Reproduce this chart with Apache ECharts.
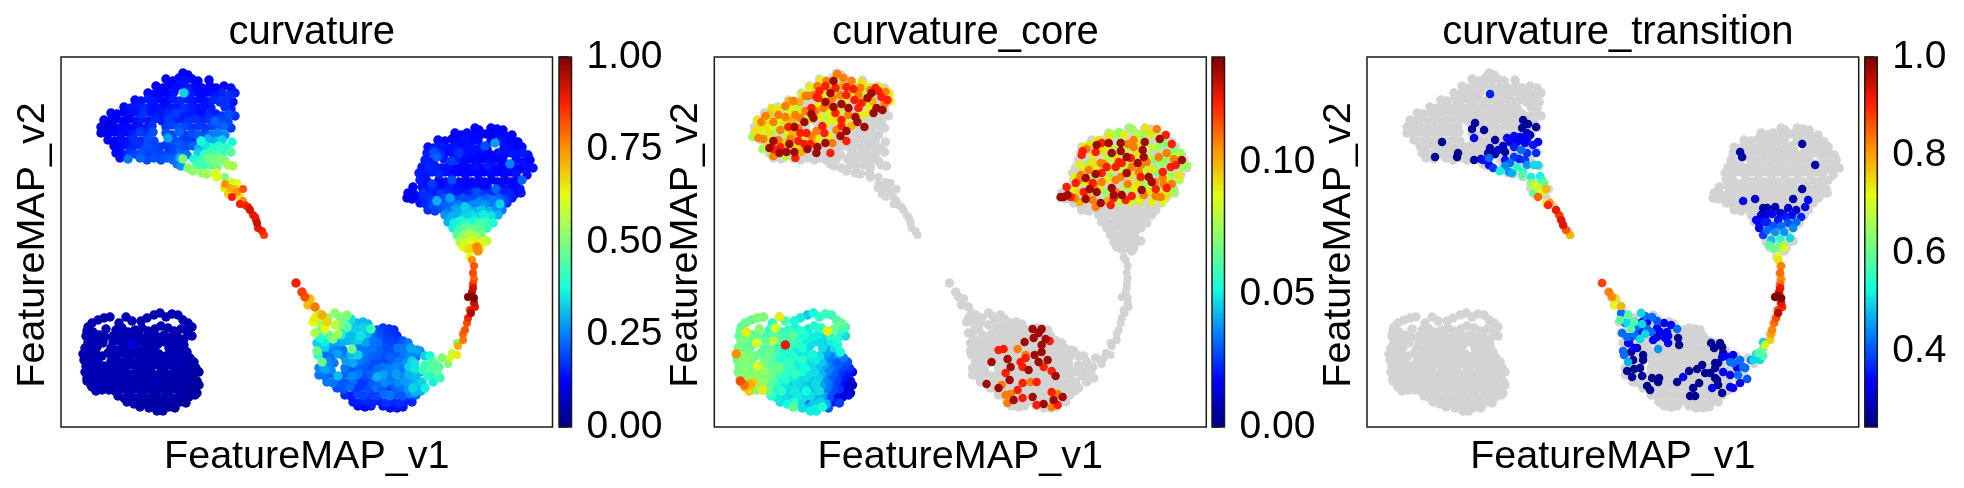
<!DOCTYPE html>
<html>
<head>
<meta charset="utf-8">
<style>html,body{margin:0;padding:0;background:#fff}#chart{width:1964px;height:488px}</style>
<script src="https://cdn.jsdelivr.net/npm/echarts@6/dist/echarts.min.js"></script>
</head>
<body>
<div id="chart"></div>
<script>
// Cells of the FeatureMAP embedding: [v1, v2, curvature, curvature_core]
const cellsLowerLeft = [
[49,110,.05,.07],[43,109,.05,.07],[37,107,.05,.066],[31,104,.05,.066],[27,100,.05,.063],[65,110,.06,.09],[71,106,.05,.06],[58,104,.05,.056],[80,106,.05,.052],[86,109,.05,.05],[93,112,.05,.045],[99,114,.05,.052],[105,110,.05,.056],[111,113,.05,.058],[117,112,.05,.058],[122,107,.05,.062],[127,104,.05,.066],[131,100,.05,.06],
[26,96,.05,.066],[32,95,.05,.09],[45,98,.05,.072],[55,97,.05,.056],[61,99,.06,.085],[67,95,.05,.058],[74,97,.05,.056],[81,99,.05,.052],[87,96,.05,.056],[94,98,.05,.05],[100,101,.05,.054],[107,99,.05,.056],[113,96,.05,.09],[120,98,.05,.066],[126,96,.05,.056],
[25,91,.05,.066],[31,89,.05,.07],[38,92,.05,.064],[44,90,.05,.066],[52,91,.05,.06],[59,92,.05,.064],[64,88,.05,.062],[71,90,.06,.06],[78,92,.05,.064],[84,89,.05,.055],[90,92,.05,.052],[97,90,.05,.05],[103,92,.05,.05],[110,90,.05,.048],[116,91,.05,.056],[123,88,.05,.055],[131,91,.05,.048],
[27,85,.05,.068],[33,83,.05,.064],[39,87,.05,.062],[42,84,.05,.085],[52,85,.05,.064],[59,86,.06,.08],[65,83,.05,.056],[71,82,.1,.125],[78,85,.05,.06],[84,83,.05,.056],[91,85,.05,.05],[97,83,.05,.048],[104,85,.05,.048],[110,84,.05,.046],[117,85,.05,.05],[123,82,.05,.052],
[24,79,.05,.068],[30,78,.05,.066],[36,80,.05,.064],[50,79,.05,.064],[56,77,.05,.066],[62,80,.05,.058],[68,77,.05,.054],[75,79,.05,.056],[81,76,.05,.05],[88,79,.05,.054],[94,77,.05,.048],[108,79,.05,.048],[114,77,.05,.04],[120,79,.05,.048],[126,75,.05,.052],
[22,73,.05,.105],[28,72,.05,.072],[35,73,.05,.07],[41,71,.05,.066],[47,74,.05,.064],[54,71,.05,.066],[60,74,.05,.06],[66,71,.05,.056],[73,73,.05,.052],[79,70,.05,.055],[86,73,.05,.048],[92,71,.05,.05],[98,73,.05,.052],[105,71,.05,.048],[111,73,.05,.04],[118,71,.05,.035],[124,73,.05,.04],[129,69,.05,.034],
[23,67,.05,.068],[30,66,.05,.072],[37,68,.05,.068],[43,61,.05,.085],[50,66,.05,.068],[56,67,.05,.064],[62,65,.05,.056],[69,67,.05,.054],[75,64,.05,.058],[82,66,.05,.05],[88,67,.05,.056],[95,65,.05,.048],[101,67,.05,.05],[107,65,.05,.045],[114,66,.05,.035],[120,65,.05,.03],[127,67,.05,.028],[133,65,.04,.028],
[25,61,.05,.068],[32,60,.05,.07],[38,62,.05,.068],[50,60,.05,.07],[58,61,.05,.064],[64,59,.05,.068],[71,62,.05,.058],[77,59,.05,.055],[84,61,.05,.05],[90,59,.05,.052],[97,62,.05,.048],[103,60,.05,.044],[110,62,.05,.04],[116,59,.05,.034],[123,61,.05,.03],[129,60,.04,.026],[135,59,.04,.024],
[24,55,.05,.068],[30,54,.05,.072],[36,56,.05,.066],[42,54,.05,.07],[49,56,.05,.074],[55,54,.05,.068],[62,56,.05,.064],[68,53,.05,.058],[75,55,.05,.055],[81,53,.05,.058],[88,55,.05,.052],[94,52,.05,.048],[100,55,.05,.048],[107,53,.04,.042],[113,55,.04,.036],[120,53,.04,.03],[126,54,.04,.024],[132,52,.04,.02],[138,55,.03,.016],
[26,49,.05,.07],[33,48,.05,.072],[39,50,.05,.074],[46,48,.05,.068],[52,50,.05,.07],[59,48,.05,.064],[65,50,.05,.052],[71,47,.05,.054],[78,49,.05,.05],[84,47,.05,.048],[91,49,.05,.048],[97,47,.05,.044],[104,49,.04,.046],[110,47,.04,.036],[117,49,.04,.03],[123,47,.04,.026],[129,49,.03,.02],[136,46,.03,.012],
[26,46,.05,.115],[30,42,.05,.11],[36,43,.05,.1],[39,44,.05,.095],[44,43,.05,.07],[49,44,.05,.074],[56,42,.05,.064],[62,44,.05,.056],[69,42,.05,.05],[75,44,.05,.046],[82,42,.05,.048],[88,43,.05,.046],[94,41,.05,.044],[101,43,.04,.048],[107,41,.04,.04],[114,43,.04,.034],[120,41,.04,.026],[127,43,.03,.018],[133,41,.03,.012],[138,42,.03,.008],
[31,40,.05,.1],[35,36,.05,.095],[41,37,.05,.07],[48,37,.05,.09],[54,36,.05,.066],[60,38,.05,.052],[67,36,.05,.056],[73,38,.05,.048],[80,36,.05,.05],[86,38,.05,.046],[92,36,.04,.052],[99,38,.04,.044],[105,36,.04,.048],[112,38,.04,.034],[118,36,.04,.028],[125,38,.03,.024],[131,36,.03,.012],[136,34,.03,.006],
[57,31,.05,.056],[63,29,.05,.05],[70,31,.05,.048],[76,29,.05,.046],[83,31,.05,.05],[89,29,.04,.048],[96,31,.04,.048],[102,29,.04,.042],[108,31,.04,.04],[115,29,.04,.028],[121,31,.03,.016],[128,30,.03,.01],[134,32,.03,.014],
[66,25,.05,.048],[73,23,.05,.052],[80,25,.04,.055],[86,23,.04,.046],[93,25,.04,.03],[99,23,.04,.045],[106,25,.04,.046],[112,23,.03,.042],[119,25,.03,.02],[125,24,.03,.026],
[79,20,.04,.064],[88,19,.04,.048],[95,20,.04,.042],[101,18,.04,.05],[108,20,.03,.054],[114,19,.03,.03],[96,16,.04,.05],[102,16,.04,.05]
];
// Cells of the other branches: [v1, v2, curvature]
const cellsUpperLeft = [
[122,354,.12],[127,352,.12],[105,348,.12],[112,346,.12],[118,349,.12],[124,347,.14],[131,348,.13],[137,346,.12],[148,347,.12],
[95,341,.12],[102,339,.12],[108,342,.12],[115,340,.13],[121,342,.14],[127,339,.15],[134,341,.13],[141,339,.12],[149,341,.12],[155,339,.12],[163,341,.12],[170,339,.14],
[87,334,.13],[94,333,.13],[100,335,.12],[107,333,.12],[113,335,.14],[123,334,.33],[129,333,.15],[135,335,.13],[142,333,.13],[148,335,.13],[155,332,.14],[161,334,.16],[168,332,.17],[174,334,.15],
[74,327,.13],[80,326,.14],[87,328,.15],[93,326,.14],[99,328,.13],[106,326,.13],[112,328,.15],[119,326,.16],[126,328,.15],[132,326,.14],[139,328,.13],[145,326,.14],[152,327,.16],[159,325,.17],[165,327,.17],[172,325,.14],
[63,320,.13],[70,319,.14],[76,321,.15],[83,319,.16],[90,321,.14],[96,319,.14],[103,321,.13],[110,319,.15],[117,321,.14],[123,319,.17],[130,321,.15],[137,319,.14],[143,321,.14],[150,319,.15],[164,320,.17],[170,318,.15],
[50,314,.11],[56,313,.12],[63,315,.12],[69,313,.13],[76,315,.14],[82,313,.17],[89,315,.14],[96,312,.15],[102,314,.15],[109,312,.16],[115,314,.18],[122,312,.15],[129,314,.15],[135,312,.14],[142,314,.14],[149,312,.16],[155,313,.15],[161,311,.18],[168,313,.2],[174,311,.17],
[43,307,.1],[49,306,.11],[55,308,.11],[62,306,.12],[68,308,.12],[75,306,.14],[81,308,.15],[88,306,.14],[94,308,.16],[101,306,.15],[107,308,.18],[114,306,.16],[121,308,.15],[127,306,.17],[134,308,.17],[140,306,.16],[147,308,.17],[154,306,.22],[160,307,.19],[167,305,.19],
[40,300,.1],[46,299,.1],[52,301,.1],[59,299,.12],[65,301,.13],[72,299,.13],[78,301,.14],[85,299,.15],[91,301,.17],[105,300,.18],[111,302,.19],[118,299,.2],[124,301,.19],[131,299,.17],[138,301,.18],[144,299,.17],[151,301,.19],[157,299,.2],[163,301,.22],[170,299,.18],
[40,294,.1],[47,293,.11],[53,295,.12],[60,293,.13],[66,295,.13],[72,293,.15],[79,295,.18],[86,293,.17],[92,295,.2],[105,294,.2],[111,292,.19],[118,295,.22],[124,292,.18],[131,294,.2],[137,292,.21],[144,294,.19],[150,292,.24],[157,294,.25],[164,292,.26],
[47,287,.11],[54,286,.12],[60,288,.14],[67,286,.14],[73,288,.17],[80,286,.16],[87,288,.2],[93,286,.19],[107,289,.28],[113,287,.2],[120,286,.19],[126,288,.18],[133,286,.17],[140,286,.38],[147,288,.3],[154,285,.3],[161,287,.33],[171,285,.38],
[53,281,.12],[59,280,.13],[66,282,.14],[72,280,.16],[79,282,.17],[86,280,.2],[92,282,.19],[99,280,.18],[105,282,.18],[112,280,.19],[118,282,.21],[125,280,.2],[132,281,.22],[138,279,.3],[145,281,.35],[152,279,.38],[158,281,.4],[165,279,.4],
[55,274,.13],[61,273,.14],[68,275,.17],[74,273,.19],[81,275,.2],[87,273,.18],[94,275,.19],[100,272,.19],[107,274,.18],[113,272,.2],[119,274,.22],[126,272,.24],[137,274,.33],[143,272,.4],[149,274,.43],[155,272,.45],[161,274,.42],[170,275,.45],
[59,269,.14],[67,268,.24],[79,269,.22],[86,267,.2],[93,269,.2],[100,267,.2],[106,269,.21],[112,267,.22],[119,269,.3],[122,268,.5],[133,268,.38],[141,267,.42],[147,269,.48],[153,266,.5],[159,268,.5],[164,266,.5],
[116,263,.24],[120,261,.27],[127,259,.5],[136,262,.43],[142,261,.42],[150,262,.45],[156,260,.48],[167,262,.55],[172,261,.55],
[132,256,.52],[141,254,.52],[146,253,.55],[155,254,.6],[156,250,.62]
];
const cellsUpperTail = [
[164,250,.5],[171,245,.6],[176,244,.62],[164,243,.75],[163,239,.65],[169,239,.72],[176,235,.75],[182,238,.82],[167,233,.68],[171,230,.88],[179,230,.66],[174,238,.7],[179,223,.88],[184,222,.84],[182,226,.76],[189,217,.92],[192,212,.88],[195,207,.9],[196,204,.93],[197,199,.9],[201,196,.87],[203,192,.84],[194,210,.9],[187,220,.89]
];
const cellsUpperRight = [
[414,299,.12],[418,297,.12],[430,299,.12],[436,298,.12],[442,297,.12],
[394,294,.12],[400,292,.12],[406,294,.13],[412,292,.12],[418,291,.13],[425,293,.12],[431,291,.12],[437,293,.13],[444,291,.13],[451,292,.12],
[377,287,.13],[384,286,.13],[391,288,.12],[397,286,.13],[404,287,.14],[410,285,.13],[417,287,.13],[424,281,.2],[430,286,.13],[434,284,.28],[440,286,.14],[446,285,.13],[453,286,.12],[457,285,.12],
[367,280,.14],[373,279,.15],[380,281,.15],[386,279,.14],[393,281,.14],[400,279,.13],[406,280,.14],[413,278,.14],[419,280,.14],[426,278,.13],[443,279,.14],[449,281,.13],[456,279,.12],[461,280,.13],
[366,274,.15],[373,275,.2],[379,273,.17],[385,275,.13],[392,273,.14],[398,275,.17],[404,273,.14],[411,275,.14],[417,272,.13],[423,274,.13],[430,272,.12],[437,274,.14],[443,272,.13],[450,274,.14],[456,272,.14],[462,274,.15],[467,272,.14],
[364,267,.15],[371,266,.15],[376,270,.22],[383,268,.15],[390,266,.18],[396,268,.15],[403,266,.13],[409,268,.13],[416,266,.13],[422,268,.12],[429,266,.13],[435,268,.12],[442,266,.12],[449,263,.25],[455,267,.14],[462,265,.14],[469,267,.12],
[361,260,.14],[368,259,.16],[374,261,.15],[381,259,.14],[388,261,.14],[394,259,.13],[401,261,.13],[407,259,.12],[414,261,.14],[420,259,.12],[427,261,.15],[433,259,.13],[440,261,.12],[446,257,.13],[453,260,.13],[459,258,.12],[466,260,.14],[472,259,.14],
[358,254,.15],[365,253,.14],[371,255,.15],[378,253,.16],[384,255,.14],[391,253,.13],[397,255,.12],[404,253,.13],[410,255,.12],[417,253,.13],[423,255,.12],[430,253,.13],[436,255,.12],[443,253,.12],[449,255,.12],[455,253,.14],[461,247,.22],[466,252,.13],
[359,247,.15],[366,246,.14],[371,243,.18],[378,247,.13],[385,245,.13],[391,247,.2],[398,245,.12],[405,247,.12],[411,245,.12],[418,247,.12],[424,245,.12],[431,247,.12],[437,245,.11],[444,247,.11],[450,245,.12],[456,246,.13],
[352,240,.12],[361,240,.14],[368,239,.14],[375,241,.14],[381,239,.13],[388,241,.15],[394,239,.14],[401,241,.13],[407,239,.12],[413,241,.13],[420,239,.12],[426,241,.13],[435,238,.22],[441,240,.13],[447,238,.14],[453,240,.12],[459,238,.14],
[347,234,.11],[353,233,.11],[362,234,.17],[368,233,.16],[374,235,.15],[380,233,.18],[386,235,.16],[393,233,.15],[399,235,.14],[405,233,.15],[411,235,.16],[416,235,.2],[423,233,.17],[430,235,.16],[436,233,.16],[442,235,.15],[448,233,.16],[454,233,.13],[460,234,.14],
[346,229,.11],[351,228,.11],[356,230,.12],[363,229,.16],[370,228,.18],[376,226,.3],[383,229,.2],[389,229,.28],[395,228,.18],[402,229,.2],[408,227,.2],[414,229,.19],[420,227,.23],[426,229,.22],[432,227,.24],[438,229,.22],[444,227,.19],[451,229,.15],
[359,224,.14],[365,223,.16],[372,222,.2],[379,224,.2],[385,222,.22],[392,224,.23],[398,222,.25],[404,220,.33],[411,222,.26],[417,224,.26],[424,222,.27],[431,224,.24],[439,223,.33],[446,224,.17],
[367,217,.17],[374,216,.18],[381,218,.2],[388,216,.24],[395,218,.28],[401,216,.29],[408,217,.3],[414,215,.31],[421,217,.32],[428,215,.3],[434,217,.27],[441,217,.25],
[384,212,.27],[391,211,.3],[397,213,.3],[404,211,.33],[410,212,.34],[417,210,.34],[423,212,.36],[430,211,.35],[437,212,.3],
[387,205,.3],[393,204,.36],[400,206,.38],[406,204,.4],[413,206,.38],[419,204,.44],[425,205,.42],[432,204,.38],
[392,199,.36],[398,198,.42],[404,200,.46],[410,198,.48],[416,199,.46],[422,198,.44],[426,199,.4],
[396,192,.46],[402,191,.52],[408,193,.56],[414,191,.55],[420,192,.5],
[399,185,.56],[404,184,.6],[410,186,.62],[416,184,.64],[422,185,.6],[426,186,.58],
[402,180,.62],[407,178,.66],[412,179,.68],[416,180,.76],[419,179,.64],[417,176,.76]
];
const cellsArm = [
[409,170,.63],[411,167,.76],[413,161,.82],[412,154,.83],[413,148,.8],[412,143,.84],[412,139,.92],[411,135,.93],[407,130,1],[413,129,1],[410,131,.98],[413,124,.93],[414,120,.9],[409,117,.87],[410,114,.96],[407,109,.87],[406,104,.83],[404,97,.82],[402,93,.8],[402,87,.78],[397,81,.72],[396,84,.5],[396,72,.65],[391,74,.58],[389,69,.6],[387,63,.5]
];
const cellsLowerRight = [
[235,144,.88],[241,135,.84],[244,130,.82],[249,128,.7],[247,122,.7],[254,120,.78],[257,114,.55],[261,112,.72],[254,109,.65],[252,105,.62],[266,105,.68],[274,114,.52],[286,112,.5],[279,110,.5],[284,109,.47],[290,108,.35],[267,109,.52],[259,104,.55],[264,98,.62],[274,102,.57],[254,94,.55],[260,97,.45],[272,88,.5],[277,93,.55],[259,89,.38],[256,84,.33],[256,76,.48],[257,72,.4],[261,65,.48],[291,78,.48],[310,98,.42],[279,102,.5],[286,100,.45],[268,92,.46],[264,85,.36],
[296,104,.31],[302,105,.31],[307,103,.31],
[284,98,.35],[291,99,.33],[297,97,.33],[303,99,.33],[316,97,.2],[322,99,.18],[328,98,.17],[333,97,.16],
[280,92,.36],[287,92,.31],[294,93,.31],[300,91,.35],[306,93,.31],[312,91,.23],[318,93,.2],[325,91,.18],[331,93,.17],[336,91,.16],
[264,80,.33],[271,84,.28],[278,85,.29],[284,86,.3],[291,85,.31],[297,87,.33],[304,85,.28],[310,87,.24],[317,85,.23],[323,87,.19],[330,85,.19],[336,87,.18],[342,86,.21],[347,84,.24],
[262,79,.29],[269,78,.26],[275,79,.25],[282,77,.24],[298,79,.24],[304,77,.24],[311,79,.24],[317,77,.22],[324,79,.2],[330,77,.2],[337,79,.24],[343,77,.24],[350,79,.29],[356,77,.28],[359,76,.26],
[264,72,.22],[270,71,.24],[277,73,.28],[283,71,.24],[290,73,.31],[297,72,.33],[303,70,.24],[310,72,.22],[316,70,.21],[323,72,.2],[329,70,.22],[336,72,.21],[342,70,.24],[349,72,.26],[355,70,.24],
[267,65,.26],[273,64,.24],[285,66,.28],[292,64,.29],[299,66,.24],[305,64,.22],[312,66,.2],[318,64,.2],[325,66,.19],[331,64,.22],[338,66,.24],[345,64,.27],[351,66,.33],[354,63,.35],
[258,59,.26],[264,58,.29],[270,57,.26],[284,59,.24],[290,58,.2],[296,60,.22],[303,58,.21],[309,60,.19],[316,58,.23],[322,60,.24],[329,58,.25],[335,60,.26],[342,58,.24],[348,60,.33],[354,58,.35],
[258,52,.24],[264,51,.23],[271,53,.22],[277,51,.31],[284,53,.22],[291,51,.26],[297,53,.24],[303,51,.2],[310,53,.22],[316,50,.3],[322,52,.28],[329,50,.24],[335,53,.28],[342,51,.26],[348,53,.3],[355,51,.31],
[266,45,.24],[272,44,.24],[279,46,.21],[285,44,.21],[292,46,.23],[298,44,.18],[305,46,.18],[311,44,.21],[318,46,.22],[324,44,.26],[331,46,.24],[337,44,.26],[344,46,.28],[350,44,.28],[356,45,.31],
[276,39,.2],[282,38,.21],[289,40,.23],[295,38,.17],[302,40,.18],[308,38,.2],[315,40,.23],[321,38,.2],[328,40,.19],[334,38,.22],[341,39,.23],[347,38,.27],[352,39,.33],
[284,32,.16],[290,31,.15],[297,33,.19],[303,31,.19],[310,33,.18],[316,31,.19],[323,33,.23],[329,31,.24],[336,33,.2],[342,31,.21],[349,33,.25],[355,32,.23],
[292,25,.15],[298,24,.15],[305,26,.16],[311,24,.16],[318,26,.15],[325,24,.17],[331,26,.16],[338,24,.17],[345,26,.16],[351,25,.16],
[297,21,.13],[304,20,.13],[310,21,.14],[322,21,.14],[329,19,.14],[336,19,.14],[342,20,.14],
[381,69,.5],[378,60,.45],[372,65,.45],[371,59,.45],[379,49,.42],[372,54,.4],[364,62,.42],[362,57,.42],[364,71,.33],[359,55,.3],[372,45,.36],[364,39,.36],[361,45,.33],[354,35,.3],[367,51,.4],[376,56,.46],[369,71,.37],[360,36,.3],[357,42,.3]
];
// curvature_core values drawn over the light grey cells: [v1, v2, value]
const coreUpperLeft = [
[119,346,.135],[116,334,.135],[111,325,.135],[153,329,.135],[157,334,.135],[162,319,.135],[127,323,.135],[119,320,.135],[134,319,.135],[97,313,.135],[99,309,.135],[80,300,.135],[90,305,.135],[126,291,.135],[132,296,.135],[141,310,.135],[143,305,.135],[150,300,.135],[111,284,.135],[103,280,.135],[59,286,.135],[55,279,.135],[65,274,.135],[72,275,.135],[80,275,.135],[102,274,.135],[93,278,.135],[75,283,.135],[159,314,.135],[168,317,.135],
[111,341,.122],[105,336,.122],[102,330,.122],[132,332,.122],[121,339,.122],[140,327,.122],[173,327,.122],[167,330,.122],[161,339,.122],[164,336,.122],[144,319,.122],[147,324,.122],[132,340,.122],[139,338,.122],[127,307,.122],[121,314,.122],[127,301,.122],[108,301,.122],[110,294,.122],[116,274,.122],[132,286,.122],[90,283,.122],[96,283,.122],[74,300,.122],[84,286,.122],[66,280,.122],[59,278,.122],[81,269,.122],[92,294,.122],[86,294,.122],[97,319,.122],[104,329,.122],
[123,353,.108],[129,349,.108],[137,346,.108],[112,346,.108],[103,341,.108],[99,332,.108],[91,331,.108],[94,331,.108],[79,326,.108],[71,321,.108],[91,316,.108],[101,316,.108],[109,319,.108],[114,323,.108],[126,332,.108],[118,329,.108],[144,332,.108],[156,337,.108],[171,335,.108],[170,323,.108],[146,339,.108],[51,311,.108],[47,305,.108],[64,312,.108],[71,310,.108],[81,312,.108],[86,309,.108],[59,305,.108],[44,289,.108],[49,288,.108],[66,297,.108],[64,287,.108],[84,299,.108],[97,291,.108],[102,296,.108],[122,297,.108],[118,284,.108],[59,271,.108],[76,288,.108],[134,312,.108],
[147,345,.092],[55,295,.092],[41,296,.092],[44,300,.092],[51,302,.092],[64,317,.092],[71,305,.092],[82,280,.092],[172,336,.092],[57,319,.092],
[84,319,.076],[97,338,.076],[143,340,.076],[61,296,.076],[74,317,.076],[57,272,.076],[67,307,.076],[73,290,.076],[112,310,.076],[64,274,.076],[38,290,.076],[48,278,.076],
[122,352,.1],[112,340,.1],[106,347,.09],[95,340,.09],[118,342,.09],[127,341,.1],[135,340,.09],[150,342,.09],[157,340,.08],[165,340,.09],[88,333,.09],[108,333,.09],[121,331,.09],[137,333,.09],[148,333,.08],[175,333,.09],[75,326,.1],[85,325,.1],[110,327,.09],[130,326,.09],[150,326,.09],[158,326,.1],[176,326,.09],[65,319,.08],[78,318,.09],[103,321,.09],[115,315,.09],[125,315,.09],[152,313,.09],[55,313,.095],[75,312,.09],[87,315,.09],[106,310,.09],[118,308,.09],[131,305,.09],[43,307,.09],[53,307,.09],[65,304,.085],[78,306,.1],[94,307,.09],[112,303,.09],[47,298,.09],[56,300,.085],[72,296,.09],[78,292,.1],[52,293,.08],[44,293,.09],[58,287,.09],[70,284,.095],[88,290,.09],[54,281,.09],[60,276,.08],[71,270,.08],[87,275,.1],[98,285,.1],[104,288,.09],[115,291,.09],[121,306,.09],[137,301,.1],[147,312,.09],[155,321,.09]
];
const coreUpperRight = [
[382,282,.135],[394,284,.135],[406,284,.135],[406,276,.135],[397,274,.135],[430,285,.135],[445,288,.135],[428,277,.135],[429,270,.135],[423,264,.135],[467,267,.135],[412,270,.135],[371,249,.135],[381,253,.135],[434,250,.135],[437,245,.135],[412,254,.135],[375,238,.135],[382,235,.135],[371,228,.135],[397,239,.135],[407,232,.135],[399,232,.135],[386,224,.135],[349,230,.135],[346,230,.135],[353,232,.135],[427,237,.135],
[368,276,.122],[367,272,.122],[381,275,.122],[387,284,.122],[404,265,.122],[401,260,.122],[407,264,.122],[416,269,.122],[426,250,.122],[448,255,.122],[452,239,.122],[461,262,.122],[456,260,.122],[441,238,.122],[457,283,.122],[352,240,.122],[361,244,.122],[369,235,.122],[378,244,.122],[396,222,.122],[411,227,.122],[417,231,.122],[399,229,.122],[356,230,.122],[451,292,.122],[412,254,.122],[387,254,.122],[392,260,.122],
[442,298,.108],[419,287,.108],[413,283,.108],[419,280,.108],[372,278,.108],[389,263,.108],[386,264,.108],[374,257,.108],[387,245,.108],[364,247,.108],[379,242,.108],[401,247,.108],[406,250,.108],[413,243,.108],[424,255,.108],[426,262,.108],[444,270,.108],[452,274,.108],[459,268,.108],[448,249,.108],[449,243,.108],[457,243,.108],[440,245,.108],[366,252,.108],[360,229,.108],[378,227,.108],[381,220,.108],[441,231,.108],[401,235,.108],[429,232,.108],[446,230,.108],[417,260,.108],[432,265,.108],
[431,299,.092],[394,290,.092],[384,287,.092],[374,282,.092],[388,276,.092],[436,294,.092],[422,274,.092],[436,257,.092],[416,252,.092],[402,270,.092],[464,252,.092],[452,231,.092],[364,235,.092],[436,235,.092],[422,244,.092],[377,242,.092],[378,264,.092],
[396,293,.075],[404,295,.075],[416,299,.075],[404,290,.075],[428,292,.075],[443,280,.075],[454,270,.075],[466,274,.075],[469,260,.075],[447,264,.075],[374,264,.075],[396,252,.075],[379,250,.075],[428,245,.075],[459,235,.075],[422,228,.075],[391,235,.075],[417,237,.075],[456,252,.075],[439,259,.075],
[395,294,.08],[410,292,.09],[422,293,.08],[437,292,.08],[448,291,.08],[380,285,.08],[392,281,.09],[400,278,.08],[412,277,.08],[425,284,.09],[437,280,.08],[450,283,.07],[459,278,.07],[369,280,.09],[379,272,.09],[392,268,.08],[399,267,.08],[410,262,.08],[420,266,.08],[434,270,.08],[441,268,.07],[450,266,.07],[462,272,.08],[472,262,.075],[365,262,.09],[371,258,.09],[382,260,.09],[396,258,.09],[408,255,.08],[430,257,.08],[442,255,.07],[455,248,.08],[465,247,.08],[360,250,.09],[369,245,.09],[392,247,.09],[410,240,.08],[420,238,.09],[432,240,.08],[444,240,.07],[458,240,.07],[360,237,.09],[372,232,.1],[385,240,.09],[393,226,.1],[405,225,.08],[415,225,.09],[425,226,.09],[437,225,.09],[448,225,.085],[365,225,.1],[445,234,.09]
];
const coreLowerRight = [
[318,98,.135],[327,98,.135],[310,85,.135],[319,89,.135],[324,94,.135],[277,65,.135],[293,68,.135],[296,60,.135],[314,57,.135],[320,72,.135],[327,75,.135],[333,67,.135],[324,65,.135],[295,47,.135],[272,43,.135],[284,39,.135],[299,27,.135],[318,30,.135],[348,30,.135],[339,27,.135],[329,23,.135],[331,88,.135],[327,82,.135],[341,51,.135],
[335,86,.122],[289,78,.122],[284,77,.122],[291,54,.122],[303,37,.122],[322,22,.122],[311,69,.122],[306,65,.122],[308,60,.122],[329,60,.122],[337,56,.122],[322,45,.122],[337,35,.122],[343,22,.122],[308,29,.122],[308,44,.122],
[303,78,.108],[311,72,.108],[316,45,.108],[343,33,.108],[337,20,.108],[291,32,.108],[293,24,.108],[287,42,.108],[296,33,.108]
];
// curvature_transition values drawn over the light grey cells: [v1, v2, value]
const transitionUpper = [
[123,333,.36],[108,304,.27],[105,298,.27],[117,297,.27],[107,289,.33],[75,285,.26],[68,270,.26],[91,274,.26],[90,270,.26],[107,267,.27],[114,268,.28],[121,274,.27],[123,279,.27],[128,287,.27],[128,273,.28],
[156,307,.26],[161,303,.26],[169,300,.26],[155,299,.27],[160,294,.3],[163,292,.28],[160,288,.33],[140,289,.33],[171,285,.33],[166,282,.35],[158,284,.33],[150,285,.33],[143,285,.32],[138,275,.27],[147,280,.36],[154,277,.42],[160,274,.38],[169,274,.37],[138,267,.35],[143,264,.42],[147,270,.38],[158,267,.38],[160,262,.45],[150,260,.55],[142,255,.45],[145,254,.47],[156,255,.55],[155,252,.58],[133,256,.52],[126,259,.38],[122,269,.42],[116,267,.35],[122,262,.33],[171,262,.5],[167,262,.5],[153,290,.32],[147,291,.33],[136,281,.3],[131,277,.3],[152,268,.36],[138,261,.44],
[164,250,.52],[173,251,.52],[164,244,.63],[171,239,.68],[177,244,.6],[166,234,.6],[179,238,.78],[171,230,.85],[183,224,.8],[179,224,.72],[181,222,.9],[189,217,.92],[192,212,.88],[194,207,.93],[196,202,.93],[199,197,.86],[203,192,.78],[168,242,.7],[174,234,.72],[175,247,.55],
[373,275,.27],[375,270,.27],[435,283,.27],[448,262,.27],[435,238,.27],[376,226,.33],[388,228,.3],[426,228,.27],[441,227,.33],
[438,220,.33],[429,217,.3],[421,219,.3],[408,220,.28],[396,219,.27],[400,219,.27],[402,214,.33],[394,212,.3],[413,214,.3],[425,212,.33],[434,210,.36],[389,207,.33],[400,205,.36],[411,207,.35],[421,204,.4],[429,205,.42],[392,199,.33],[400,197,.42],[408,195,.45],[417,195,.45],[396,192,.38],[404,187,.48],[413,188,.55],[423,189,.5],[402,182,.58],[406,179,.6],[411,180,.62],[417,179,.7],[417,182,.65],[416,213,.32],[406,201,.4],[414,201,.42],[392,204,.3],[398,211,.28],[405,213,.33],[419,210,.36],[426,199,.44],[397,205,.36]
];
const transitionLower = [
[266,67,.26],[265,50,.26],[275,51,.26],[260,56,.26],[267,58,.26],[273,59,.26],[276,72,.26],[276,67,.26],[270,79,.26],[264,75,.26],[312,82,.26],[311,89,.26],[285,49,.26],[292,49,.26],[291,45,.26],[280,41,.26],[283,37,.26],[310,45,.26],[322,56,.26],[330,58,.26],[335,62,.26],[332,44,.26],[326,39,.26],[323,31,.26],[328,31,.26],[338,54,.26],[343,54,.26],[348,49,.26],[347,79,.26],[344,84,.26],[355,80,.26],[353,84,.26],[356,74,.26],[348,64,.26],[351,64,.26],[348,59,.26],[350,47,.26],[351,42,.26],[355,34,.26],
[297,104,.33],[304,102,.33],[290,99,.33],[293,95,.33],[300,95,.33],[298,89,.33],[301,91,.33],[286,87,.33],[290,90,.33],[301,84,.33],[275,95,.33],[271,94,.33],[262,84,.33],[261,84,.33],[267,79,.33],[275,105,.33],[280,105,.33],[267,105,.33],[316,50,.33],[345,39,.33],[355,70,.33],[356,55,.33],[363,52,.33],[363,40,.33],[366,39,.33],[373,44,.33],[366,72,.33],[370,59,.33],[380,48,.4],[361,70,.33],
[310,98,.42],[285,110,.42],[278,111,.42],[255,94,.42],[258,104,.42],[284,95,.42],[260,90,.42],[268,92,.42],[254,114,.42],[291,78,.45],[256,76,.42],[257,72,.42],[261,65,.47],[373,67,.42],[366,64,.42],[363,65,.42],[371,52,.42],[378,59,.42],[384,67,.42],[376,60,.42],[270,100,.42],[280,98,.42],[290,106,.4],[264,90,.38],
[274,114,.5],[273,88,.5],[278,93,.5],[275,103,.5],[260,104,.5],[386,67,.5],[393,67,.5],[389,73,.5],[396,85,.5],
[261,112,.58],[253,107,.58],[264,98,.58],[267,105,.58],[391,74,.58],[396,71,.58],[396,79,.6],
[248,129,.74],[247,122,.72],[254,121,.78],[403,87,.76],[398,82,.7],[235,144,.88],[242,135,.83],[245,130,.82]
];
const transitionArm = [
[411,170,.72],[411,167,.74],[414,161,.83],[413,154,.84],[414,148,.82],[413,143,.84],[413,139,.92],[412,135,.93],[408,130,1],[414,129,1],[411,131,.98],[414,124,.93],[415,120,.9],[411,117,.87],[411,114,.96],[409,109,.87],[407,104,.84],[405,97,.82],[404,93,.8]
];

// Colour bar ranges and the ticks that are labelled on each of them
const colorbarRanges = [[0, 1], [0, 0.1396], [0.245, 1]];
const colorbarTicks = [[0, 0.25, 0.5, 0.75, 1], [0, 0.05, 0.1], [0.4, 0.6, 0.8, 1]];
const colorbarDigits = [2, 2, 1];
const panelTitles = ['curvature', 'curvature_core', 'curvature_transition'];
const jetColors = ['#00007f','#0000ff','#007fff','#14ffdb','#7dff7a','#e2ff14','#ff9400','#ff1e00','#7f0000'];
const GREY = '#d3d3d3';
const INK = '#1a1a1a';
const FONT = '"Liberation Sans", Arial, sans-serif';
const FS = 39.5;
const SIZE_BODY = 9.5, SIZE_THIN = 8, SIZE_OVERLAY = 8.5;

// Each drawn row carries the size its group is painted with after the value
const sized = (rows, size) => rows.map(r => [r[0], r[1], r[2], size]);
const allCells = sized(cellsLowerLeft, SIZE_BODY)
  .concat(sized(cellsUpperLeft, SIZE_BODY), sized(cellsUpperRight, SIZE_BODY), sized(cellsLowerRight, SIZE_BODY),
          sized(cellsUpperTail, SIZE_THIN), sized(cellsArm, SIZE_THIN));
const coreCells = cellsLowerLeft.map(r => [r[0], r[1], r[3], SIZE_BODY])
  .concat(sized(coreUpperLeft, SIZE_OVERLAY), sized(coreUpperRight, SIZE_OVERLAY), sized(coreLowerRight, SIZE_OVERLAY));
const transitionCells = sized(transitionUpper.concat(transitionLower, transitionArm), SIZE_OVERLAY);

// Higher values are painted last so they stay visible
const byValue = rows => rows.slice().sort((a, b) => a[2] - b[2]);
const panelCells = [byValue(allCells), byValue(coreCells), byValue(transitionCells)];

const plotBoxes = [
  { left: 61, width: 491.5, barLeft: 559 },
  { left: 714.3, width: 492, barLeft: 1212 },
  { left: 1367, width: 491.7, barLeft: 1864.8 }
];
const TOP = 57, HEIGHT = 370, BAR_WIDTH = 12.5;

const option = { animation: false, backgroundColor: '#fff', title: [], grid: [], xAxis: [], yAxis: [], series: [], visualMap: [] };

plotBoxes.forEach((box, i) => {
  const gridPlot = i * 2, gridBar = i * 2 + 1;
  option.title.push({
    text: panelTitles[i], left: box.left + box.width / 2, top: 8, textAlign: 'center',
    textStyle: { fontFamily: FONT, fontSize: 40, fontWeight: 'normal', color: '#000' }
  });
  option.grid.push({ left: box.left, top: TOP, width: box.width, height: HEIGHT, show: true, borderColor: INK, borderWidth: 1.5, backgroundColor: 'transparent' });
  option.grid.push({ left: box.barLeft, top: TOP, width: BAR_WIDTH, height: HEIGHT, show: true, borderColor: INK, borderWidth: 1.5, z: 5, backgroundColor: 'transparent' });
  option.xAxis.push({
    gridIndex: gridPlot, type: 'value', min: 0, max: 491.5,
    name: 'FeatureMAP_v1', nameLocation: 'middle', nameGap: 10,
    nameTextStyle: { fontFamily: FONT, fontSize: FS, color: '#000', verticalAlign: 'top' },
    axisLine: { show: false }, axisTick: { show: false }, axisLabel: { show: false }, splitLine: { show: false }
  });
  option.yAxis.push({
    gridIndex: gridPlot, type: 'value', min: 0, max: 370,
    name: 'FeatureMAP_v2', nameLocation: 'middle', nameGap: 8,
    nameTextStyle: { fontFamily: FONT, fontSize: FS, color: '#000', verticalAlign: 'bottom', padding: [0, 6, 0, 0] },
    axisLine: { show: false }, axisTick: { show: false }, axisLabel: { show: false }, splitLine: { show: false }
  });
  option.xAxis.push({ gridIndex: gridBar, type: 'value', min: 0, max: 1, show: false });
  option.yAxis.push({
    gridIndex: gridBar, type: 'value', position: 'right',
    min: colorbarRanges[i][0], max: colorbarRanges[i][1],
    axisLine: { show: false },
    axisTick: { show: true, length: 9, customValues: colorbarTicks[i], lineStyle: { color: INK, width: 1.5 } },
    axisLabel: {
      show: true, margin: 15, customValues: colorbarTicks[i], fontFamily: FONT, fontSize: 39, color: '#000',
      formatter: v => Number(v).toFixed(colorbarDigits[i])
    },
    splitLine: { show: false }
  });
  if (i > 0) {
    option.series.push({
      type: 'scatter', xAxisIndex: gridPlot, yAxisIndex: gridPlot, silent: true,
      data: allCells.map(r => [r[0], r[1], r[3]]), symbolSize: v => v[2],
      itemStyle: { color: GREY, opacity: 1 }, z: 1
    });
  }
  option.series.push({
    type: 'scatter', xAxisIndex: gridPlot, yAxisIndex: gridPlot, silent: true,
    data: panelCells[i], symbolSize: v => v[3], itemStyle: { opacity: 1 }, z: 2
  });
  option.visualMap.push({
    show: false, type: 'continuous', seriesIndex: option.series.length - 1, dimension: 2,
    min: colorbarRanges[i][0], max: colorbarRanges[i][1], inRange: { color: jetColors }
  });
  // Colour bar body spanning the full value range on its own axis
  option.series.push({
    type: 'custom', xAxisIndex: gridBar, yAxisIndex: gridBar, silent: true, z: 3,
    data: [[0, colorbarRanges[i][0], 1, colorbarRanges[i][1]]],
    encode: { x: [0, 2], y: [1, 3] },
    renderItem: (params, api) => {
      const a = api.coord([api.value(0), api.value(1)]);
      const b = api.coord([api.value(2), api.value(3)]);
      return {
        type: 'rect',
        shape: { x: a[0], y: b[1], width: b[0] - a[0], height: a[1] - b[1] },
        style: {
          fill: new echarts.graphic.LinearGradient(0, 1, 0, 0,
            jetColors.map((c, k) => ({ offset: k / (jetColors.length - 1), color: c })))
        }
      };
    }
  });
});

echarts.init(document.getElementById('chart'), null, { renderer: 'canvas' }).setOption(option);
</script>
</body>
</html>
